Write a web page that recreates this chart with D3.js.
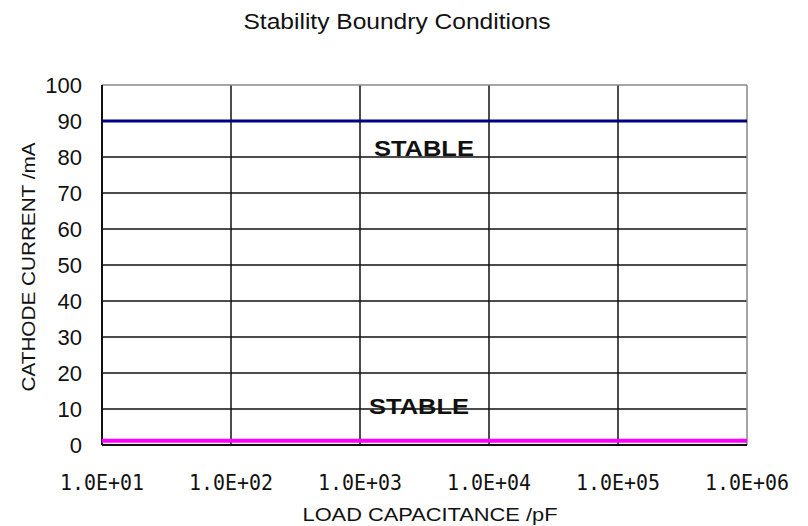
<!DOCTYPE html>
<html>
<head>
<meta charset="utf-8">
<script src="https://cdn.jsdelivr.net/npm/d3@7"></script>
<style>
  body { margin: 0; background: #fff; }
</style>
</head>
<body>
<div id="chart"></div>
<script>
const MARGIN = { TOP: 85, BOTTOM: 81, LEFT: 102, RIGHT: 61 };
const WIDTH = 808, HEIGHT = 526;

// data
const capacitance = [1e1, 1e2, 1e3, 1e4, 1e5, 1e6];
const upperBoundary = [90, 90, 90, 90, 90, 90];
const lowerBoundary = [1.2, 1.2, 1.2, 1.2, 1.2, 1.2];
const yTicks = [0, 10, 20, 30, 40, 50, 60, 70, 80, 90, 100];
const xTickLabels = ["1.0E+01", "1.0E+02", "1.0E+03", "1.0E+04", "1.0E+05", "1.0E+06"];
const regionLabels = [
  { text: "STABLE", x: 3130, y: 80.3 },
  { text: "STABLE", x: 2870, y: 8.6 }
];

const w = WIDTH - MARGIN.LEFT - MARGIN.RIGHT;
const h = HEIGHT - MARGIN.TOP - MARGIN.BOTTOM;

const svg = d3.select("#chart")
  .append("svg")
  .attr("width", WIDTH)
  .attr("height", HEIGHT)
  .style("background", "white");

const g = svg.append("g")
  .attr("transform", `translate(${MARGIN.LEFT}, ${MARGIN.TOP})`);

const x = d3.scaleLog().domain([1e1, 1e6]).range([0, w]);
const y = d3.scaleLinear().domain([0, 100]).range([h, 0]);

// horizontal grid
g.selectAll(".hgrid")
  .data(yTicks.filter((d) => d > 0 && d < 100))
  .enter()
  .append("line")
  .attr("class", "hgrid")
  .attr("x1", 0)
  .attr("x2", w)
  .attr("y1", (d) => y(d))
  .attr("y2", (d) => y(d))
  .attr("stroke", "#111")
  .attr("stroke-width", 1.5);

// vertical grid
g.selectAll(".vgrid")
  .data(capacitance.slice(1, -1))
  .enter()
  .append("line")
  .attr("class", "vgrid")
  .attr("x1", (d) => x(d))
  .attr("x2", (d) => x(d))
  .attr("y1", 0)
  .attr("y2", h)
  .attr("stroke", "#111")
  .attr("stroke-width", 1.5);

// frame: top and right grey, left and bottom black
g.append("line").attr("x1", 0).attr("x2", w).attr("y1", 0).attr("y2", 0)
  .attr("stroke", "#888").attr("stroke-width", 1.5);
g.append("line").attr("x1", w).attr("x2", w).attr("y1", 0).attr("y2", h)
  .attr("stroke", "#888").attr("stroke-width", 1.5);
g.append("line").attr("x1", 0).attr("x2", 0).attr("y1", 0).attr("y2", h)
  .attr("stroke", "#111").attr("stroke-width", 2);
g.append("line").attr("x1", 0).attr("x2", w).attr("y1", h).attr("y2", h)
  .attr("stroke", "#111").attr("stroke-width", 2);

const line = d3.line()
  .x((d, i) => x(capacitance[i]))
  .y((d) => y(d));

g.append("path")
  .datum(upperBoundary)
  .attr("d", line)
  .attr("fill", "none")
  .attr("stroke", "#000080")
  .attr("stroke-width", 3);

g.append("path")
  .datum(lowerBoundary)
  .attr("d", line)
  .attr("fill", "none")
  .attr("stroke", "#ff00ff")
  .attr("stroke-width", 4);

// y tick labels
g.selectAll(".ylab")
  .data(yTicks)
  .enter()
  .append("text")
  .attr("class", "ylab")
  .attr("x", -20)
  .attr("y", (d) => y(d))
  .attr("dy", "0.38em")
  .attr("text-anchor", "end")
  .style("font-family", "'Liberation Sans', Arial, sans-serif")
  .style("font-size", "22px")
  .attr("fill", "#111")
  .text((d) => d);

// x tick labels
g.selectAll(".xlab")
  .data(capacitance)
  .enter()
  .append("text")
  .attr("class", "xlab")
  .attr("x", (d) => x(d))
  .attr("y", h + 45)
  .attr("text-anchor", "middle")
  .attr("textLength", 84)
  .attr("lengthAdjust", "spacingAndGlyphs")
  .style("font-family", "'DejaVu Sans Mono', monospace")
  .style("font-size", "21px")
  .attr("fill", "#111")
  .text((d, i) => xTickLabels[i]);

// region labels
g.selectAll(".region")
  .data(regionLabels)
  .enter()
  .append("text")
  .attr("class", "region")
  .attr("x", (d) => x(d.x))
  .attr("y", (d) => y(d.y))
  .attr("text-anchor", "middle")
  .attr("textLength", 100)
  .attr("lengthAdjust", "spacingAndGlyphs")
  .style("font-family", "'Liberation Sans', Arial, sans-serif")
  .style("font-size", "22px")
  .style("font-weight", "bold")
  .attr("fill", "#111")
  .text((d) => d.text);

// title
svg.append("text")
  .attr("x", 397)
  .attr("y", 29)
  .attr("text-anchor", "middle")
  .attr("textLength", 307)
  .attr("lengthAdjust", "spacingAndGlyphs")
  .style("font-family", "'Liberation Sans', Arial, sans-serif")
  .style("font-size", "22px")
  .attr("fill", "#111")
  .text("Stability Boundry Conditions");

// axis titles
svg.append("text")
  .attr("x", 430)
  .attr("y", 521)
  .attr("text-anchor", "middle")
  .attr("textLength", 255)
  .attr("lengthAdjust", "spacingAndGlyphs")
  .style("font-family", "'Liberation Sans', Arial, sans-serif")
  .style("font-size", "19px")
  .attr("fill", "#111")
  .text("LOAD CAPACITANCE /pF");

svg.append("text")
  .attr("transform", "translate(35, 267) rotate(-90)")
  .attr("text-anchor", "middle")
  .attr("textLength", 249)
  .attr("lengthAdjust", "spacingAndGlyphs")
  .style("font-family", "'Liberation Sans', Arial, sans-serif")
  .style("font-size", "19px")
  .attr("fill", "#111")
  .text("CATHODE CURRENT /mA");
</script>
</body>
</html>
